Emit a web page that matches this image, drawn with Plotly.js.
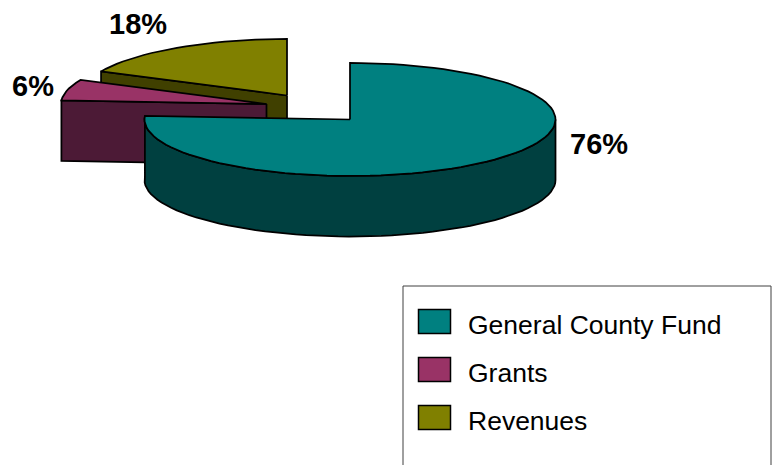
<!DOCTYPE html>
<html>
<head>
<meta charset="utf-8">
<script src="https://cdn.plot.ly/plotly-3.0.1.min.js"></script>
<style>html,body{margin:0;padding:0;background:#fff;overflow:hidden}</style>
</head>
<body>
<div id="chart" style="width:776px;height:465px"></div>
<script>
// Data
var categories = ["General County Fund", "Grants", "Revenues"];
var shares = [76, 6, 18];
var topColors = ["#008080", "#993366", "#808000"];
var wallColors = ["#004040", "#4C1A36", "#404000"];

// 3-D pie projection (pixel-like axis units)
var apexX = [350, 266.5, 287];
var apexY = [119.5, 104, 95.5];
var radiusX = 205.5, radiusY = 56.5, depth = 60.5;
var labelX = [599, 33, 138];
var labelY = [144, 86, 24];
var legendY = [321.5, 369.5, 417.5];

function rim(i, a) {
  var r = a * Math.PI / 180;
  return [apexX[i] + radiusX * Math.sin(r), apexY[i] - radiusY * Math.cos(r)];
}
function arc(i, a0, a1) {
  var pts = [], n = Math.max(2, Math.round((a1 - a0) / 3));
  for (var k = 0; k <= n; k++) pts.push(rim(i, a0 + (a1 - a0) * k / n));
  return pts;
}
function poly(pts, color) {
  return {
    type: "scatter", mode: "lines", fill: "toself", fillcolor: color,
    x: pts.map(function (p) { return p[0]; }),
    y: pts.map(function (p) { return p[1]; }),
    line: { color: "#000", width: 1.75 }, hoverinfo: "skip", showlegend: false
  };
}

// Slice angle ranges, clockwise from 12 o'clock
var starts = [], ends = [], acc = 0;
shares.forEach(function (s, i) { starts[i] = acc; acc += s * 3.6; ends[i] = acc; });

function sliceTraces(i) {
  var out = [], apex = [apexX[i], apexY[i]], top = arc(i, starts[i], ends[i]);
  var down = function (p) { return [p[0], p[1] + depth]; };
  if (i === 0) {
    // outer rim wall of the large slice
    var rimTop = arc(i, 90, ends[i]);
    out.push(poly(rimTop.concat(rimTop.slice().reverse().map(down), [rimTop[0]]), wallColors[i]));
  } else {
    // cut face that looks toward the viewer
    var edge = rim(i, starts[i]);
    out.push(poly([apex, edge, down(edge), down(apex), apex], wallColors[i]));
  }
  out.push(poly([apex].concat(top, [apex]), topColors[i]));
  return out;
}

var traces = [].concat(sliceTraces(2), sliceTraces(1), sliceTraces(0));

var shapes = [{
  type: "path", xref: "x", yref: "y",
  path: "M403,465 L403,286 L771,286 L771,465",
  line: { color: "#404040", width: 1 }, fillcolor: "rgba(0,0,0,0)"
}];
var annotations = [];
var fontFam = "Liberation Sans, Arial, sans-serif";

shares.forEach(function (s, i) {
  annotations.push({
    xref: "x", yref: "y", x: labelX[i], y: labelY[i], text: "<b>" + s + "%</b>",
    showarrow: false, xanchor: "center", yanchor: "middle",
    font: { family: fontFam, size: 29, color: "#000" }
  });
  shapes.push({
    type: "rect", xref: "x", yref: "y",
    x0: 418.5, x1: 450.5, y0: legendY[i] - 12, y1: legendY[i] + 12,
    fillcolor: topColors[i], line: { color: "#000", width: 1.5 }
  });
  annotations.push({
    xref: "x", yref: "y", x: 465.5, y: legendY[i] + 3, text: categories[i],
    showarrow: false, xanchor: "left", yanchor: "middle",
    font: { family: fontFam, size: 26.5, color: "#000" }
  });
});

var hidden = { visible: false, fixedrange: true };
Plotly.newPlot("chart", traces, {
  width: 776, height: 465,
  margin: { l: 0, r: 0, t: 0, b: 0, pad: 0 },
  paper_bgcolor: "#fff", plot_bgcolor: "#fff",
  xaxis: Object.assign({ range: [0, 776] }, hidden),
  yaxis: Object.assign({ range: [465, 0] }, hidden),
  showlegend: false, shapes: shapes, annotations: annotations
}, { displayModeBar: false, staticPlot: true });
</script>
</body>
</html>
